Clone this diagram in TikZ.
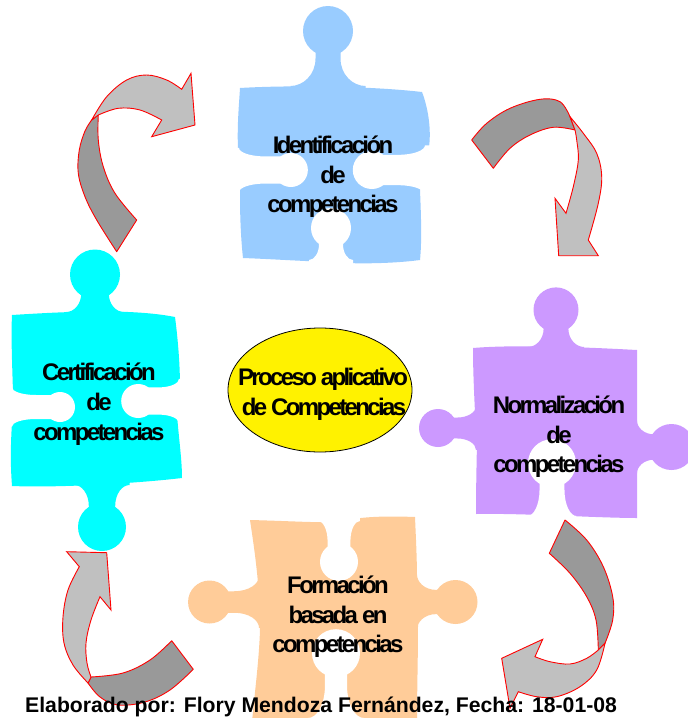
\documentclass[tikz,border=0pt]{standalone}
\usepackage{fontspec}
\setmainfont{Liberation Sans}
\newfontfamily\tightfont{Liberation Sans}[LetterSpace=-11]
\usetikzlibrary{shapes.geometric}
\definecolor{pblue}{HTML}{99CCFF}
\definecolor{pcyan}{HTML}{00FFFF}
\definecolor{ppurple}{HTML}{CC99FF}
\definecolor{ppeach}{HTML}{FFCC99}
\definecolor{adark}{HTML}{999999}
\definecolor{alight}{HTML}{C0C0C0}
\newcommand\jigfeat[8]{%
  \begin{scope}[shift={(#2,#3)},rotate=#4,scale=#5]
    \fill[#1] (0,#6) circle[radius=1];
    \fill[#1] ({-(#7)-(#8)},-0.6) -- ({-(#7)-(#8)},0)
      .. controls ({-(#7)-0.5*(#8)},0) and ({-(#7)},{0.2*(#6)}) .. ({-(#7)},{0.5*(#6)})
      -- ({-(#7)},#6) -- (#7,#6) -- (#7,{0.5*(#6)})
      .. controls (#7,{0.2*(#6)}) and ({(#7)+0.5*(#8)},0) .. ({(#7)+(#8)},0)
      -- ({(#7)+(#8)},-0.6) -- cycle;
  \end{scope}}
\tikzset{
  lbl/.style={font=\tightfont\bfseries\fontsize{24}{30}\selectfont, inner sep=0pt, anchor=base},
  foot/.style={font=\bfseries\fontsize{21.2}{25}\selectfont, inner sep=0pt, anchor=base west},
  darkband/.style={fill=adark, draw=red, line width=0.9pt, line join=round},
  lightband/.style={fill=alight, draw=red, line width=0.9pt, line join=miter},
  sm/.style={smooth, tension=0.6}
}
\begin{document}
\begin{tikzpicture}[x=1pt,y=-1pt]
\useasboundingbox (0,0) rectangle (688,718);
\fill[white] (0,0) rectangle (688,718);

% ---------- blue piece: Identificacion ----------
\fill[pblue] (240,88) .. controls (290,85) and (370,86) .. (422,92)
  .. controls (429,110) and (432,135) .. (428,152) -- (420,190)
  .. controls (421,215) and (422,240) .. (420,260)
  .. controls (390,264) and (350,264) .. (330,262)
  .. controls (300,261) and (270,259) .. (243,258)
  .. controls (240,230) and (240,205) .. (240,190) -- (238,150)
  .. controls (237,125) and (239,105) .. (240,88) -- cycle;
\jigfeat{pblue}{328}{86}{180}{25}{2.2}{0.5}{1.0}
\jigfeat{white}{239}{170}{90}{17}{3.05}{0.8}{0.5}
\jigfeat{white}{425}{170}{-90}{19}{2.8}{0.8}{0.5}
\jigfeat{white}{331}{260}{180}{20}{1.6}{0.6}{0.5}

% ---------- cyan piece: Certificacion ----------
\fill[pcyan] (12,315) .. controls (60,312) and (130,308) .. (175,317)
  .. controls (178,340) and (180,365) .. (180,387) -- (177,415)
  .. controls (179,440) and (182,460) .. (182,478)
  .. controls (140,483) and (60,488) .. (12,486)
  .. controls (10,460) and (11,440) .. (12,422) -- (13,392)
  .. controls (12,360) and (11,335) .. (12,315) -- cycle;
\jigfeat{pcyan}{95}{312}{180}{25}{1.5}{0.55}{0.6}
\jigfeat{pcyan}{102}{485}{0}{24}{1.75}{0.55}{0.6}
\jigfeat{white}{179}{401}{-90}{17}{2.4}{0.8}{0.5}
\jigfeat{white}{12}{407}{90}{15}{3.2}{0.8}{0.5}

% ---------- purple piece: Normalizacion ----------
\fill[ppurple] (473,348) .. controls (520,344) and (600,348) .. (637,350)
  -- (637,518) .. controls (600,518) and (520,513) .. (476,514)
  .. controls (476,480) and (477,450) .. (477,437) -- (475,413)
  .. controls (474,390) and (473,370) .. (473,348) -- cycle;
\jigfeat{ppurple}{556}{347}{180}{22.5}{1.65}{0.55}{0.7}
\jigfeat{ppurple}{476}{428}{-90}{19}{2.0}{0.55}{0.6}
\jigfeat{ppurple}{637}{447}{90}{23}{1.5}{0.55}{0.6}
\jigfeat{white}{552}{516}{180}{24}{2.2}{0.52}{0.5}

% ---------- peach piece: Formacion ----------
\fill[ppeach] (250,520) .. controls (290,521) and (320,523) .. (339,522)
  .. controls (360,516) and (390,516) .. (415,517)
  .. controls (416,540) and (417,560) .. (417,580) -- (418,623)
  .. controls (418,660) and (417,690) .. (417,722) -- (252,722)
  .. controls (255,690) and (259,660) .. (260,630) -- (258,583)
  .. controls (256,560) and (253,540) .. (250,520) -- cycle;
\jigfeat{ppeach}{259}{602}{-90}{21.5}{2.3}{0.5}{0.7}
\jigfeat{ppeach}{417}{602}{90}{22}{1.75}{0.55}{0.7}
\jigfeat{white}{339}{521}{0}{19}{2.15}{0.6}{0.5}
\jigfeat{white}{336}{718}{180}{24}{2.7}{0.46}{0.7}

% ---------- centre ellipse ----------
\node[ellipse, draw=black, line width=0.8pt, fill=yellow, minimum width=184pt, minimum height=124pt, inner sep=0pt] (proc) at (320,390) {};

% ---------- arrows ----------
% top-left
\filldraw[darkband] plot[sm] coordinates {(136.7,220) (115,193.3) (103.3,166.7) (98.3,140) (98.3,115)}
  -- plot[sm] coordinates {(91.7,120) (85,131) (79.3,150) (78.3,173.3) (85,196.7) (96.7,220) (116.7,251.7)} -- cycle;
\filldraw[lightband] plot[sm] coordinates {(91.7,120) (106.7,96.7) (126.7,80) (146.7,75) (166.7,80) (181.7,89.3)}
  -- (191,73.3) -- (195,125) -- (151.7,136.7)
  -- plot[sm] coordinates {(161.7,120) (140,110) (118.3,108.3) (98.3,115)} -- cycle;
% top-right
\filldraw[darkband] plot[sm] coordinates {(471.7,140) (486.7,123.3) (510,108.3) (540,99.3) (560,101.7) (570,116.7)}
  -- plot[sm] coordinates {(575,130) (553.3,127.3) (530,135) (510,148.3) (493.3,168.3)} -- cycle;
\filldraw[lightband] plot[sm] coordinates {(570,116.7) (583.3,133.3) (596.7,153.3) (601.7,176.7) (598.3,203.3) (588.3,240)}
  -- (598.3,255.7) -- (558.7,255.7) -- (555,198.3)
  -- plot[sm] coordinates {(566,213.3) (573.3,186.7) (578.3,160) (576.7,140) (575,130)} -- cycle;
% bottom-right
\filldraw[darkband] plot[sm] coordinates {(565,520) (586.7,540) (603.3,566.7) (612.7,596.7) (612.7,620) (605,643.3)}
  -- plot[sm] coordinates {(598.3,650) (596,620) (586.7,596.7) (570,573.3) (549.3,553.3)} -- cycle;
\filldraw[lightband] plot[sm] coordinates {(605,643.3) (596.7,670) (580,686.7) (556.7,696.7) (536.7,696.7) (518.3,691.7)}
  -- (510,708.3) -- (501.7,658.3) -- (542.7,639.3)
  -- plot[sm] coordinates {(535,656.7) (550,661.7) (570,664) (586.7,658.3) (598.3,650)} -- cycle;
% bottom-left
\filldraw[darkband] plot[sm] coordinates {(171.7,640.7) (150,660) (123,673) (91,677)}
  -- plot[sm] coordinates {(88,683) (100,697) (118,705) (145,702) (170,690) (193.3,669.3)} -- cycle;
\filldraw[lightband] plot[sm] coordinates {(88,683) (73,665) (64,643) (63,617) (68,590) (79.3,566.7)}
  -- (66.7,551.7) -- (106.7,552.7) -- (111,610)
  -- plot[sm] coordinates {(100,596.7) (91,620) (86,643) (87,663) (91,677)} -- cycle;

% ---------- texts ----------
\node[lbl] (id1) at (333,153) {Identificación};
\node[lbl] (id2) at (333,183) {de};
\node[lbl] (id3) at (333,212) {competencias};
\node[lbl] (ce1) at (99,380) {Certificación};
\node[lbl] (ce2) at (99,410) {de};
\node[lbl] (ce3) at (99,440) {competencias};
\node[lbl] (no1) at (559,413) {Normalización};
\node[lbl] (no2) at (559,443) {de};
\node[lbl] (no3) at (559,472) {competencias};
\node[lbl] (fo1) at (338,593) {Formación};
\node[lbl] (fo2) at (338,623) {basada en};
\node[lbl] (fo3) at (338,652) {competencias};
\node[lbl] (pr1) at (323,385) {Proceso aplicativo};
\node[lbl] (pr2) at (324,415) {de Competencias};
\node[foot] (foot) at (25,712) {Elaborado por: Flory Mendoza Fernández, Fecha: 18-01-08};
\end{tikzpicture}
\end{document}
